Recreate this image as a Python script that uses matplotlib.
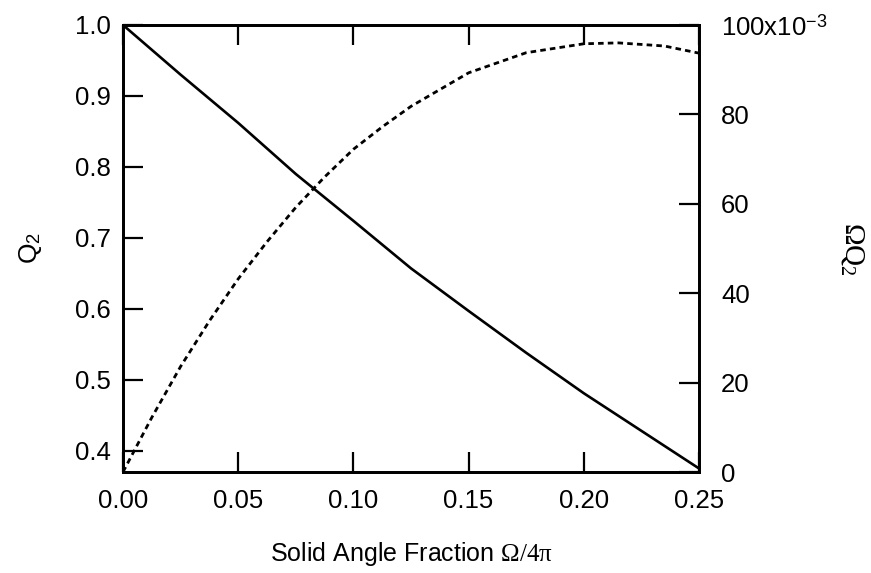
import matplotlib
matplotlib.use("Agg")
import matplotlib.pyplot as plt
from matplotlib.ticker import FixedLocator

plt.rcParams['font.family'] = ['Liberation Sans', 'DejaVu Sans']
plt.rcParams['mathtext.fontset'] = 'custom'
plt.rcParams['mathtext.rm'] = 'Liberation Serif'
plt.rcParams['mathtext.it'] = 'Liberation Serif:italic'
plt.rcParams['mathtext.sf'] = 'Liberation Sans'

# Solid angle fraction Omega/4pi
frac = [0.0, 0.025, 0.05, 0.075, 0.1, 0.125, 0.15, 0.175, 0.2, 0.225, 0.25]
# Q2 versus solid angle fraction (left axis)
q2 = [1.0, 0.930, 0.862, 0.790, 0.724, 0.657, 0.597, 0.538, 0.481, 0.428, 0.375]

# Omega*Q2 (right axis)
frac_oq = [0.0, 0.0125, 0.025, 0.0375, 0.05, 0.0625, 0.075, 0.0875, 0.1,
           0.1125, 0.125, 0.15, 0.175, 0.2, 0.215, 0.235, 0.25]
omega_q2 = [0.0, 0.0122, 0.0236, 0.0338, 0.0432, 0.0515, 0.0592, 0.0660, 0.0722,
            0.0772, 0.0818, 0.0893, 0.0938, 0.0958, 0.0960, 0.0953, 0.0937]

x_ticks = [0.0, 0.05, 0.10, 0.15, 0.20, 0.25]
x_labels = ['0.00', '0.05', '0.10', '0.15', '0.20', '0.25']
left_ticks = [0.4, 0.5, 0.6, 0.7, 0.8, 0.9, 1.0]
left_labels = ['0.4', '0.5', '0.6', '0.7', '0.8', '0.9', '1.0']
right_ticks = [0.0, 0.02, 0.04, 0.06, 0.08, 0.10]
right_labels = ['0', '20', '40', '60', '80', r'100x10$^{\mathsf{-3}}$']

fig = plt.figure(figsize=(8.71, 5.73), dpi=100)
ax = fig.add_axes([123 / 871, 1 - 472 / 573, (699 - 123) / 871, (472 - 25) / 573])
ax2 = ax.twinx()

ax.plot(frac, q2, color='black', lw=1.9, solid_joinstyle='round')
ax2.plot(frac_oq, omega_q2, color='black', lw=2.0, linestyle=(0, (2.0, 1.5)))

ax.set_xlim(0.0, 0.25)
ax.set_ylim(0.37, 1.0)
ax2.set_ylim(0.0, 0.1)

ax.xaxis.set_major_locator(FixedLocator(x_ticks))
ax.set_xticklabels(x_labels)
ax.yaxis.set_major_locator(FixedLocator(left_ticks))
ax.set_yticklabels(left_labels)
ax2.yaxis.set_major_locator(FixedLocator(right_ticks))
ax2.set_yticklabels(right_labels)

for a in (ax, ax2):
    for s in a.spines.values():
        s.set_linewidth(2.0)
    a.minorticks_off()

fs = 18.5
ax.tick_params(axis='x', which='major', direction='in', length=14.5, width=1.6,
               top=True, labeltop=False, labelsize=fs, pad=12)
ax.tick_params(axis='y', which='major', direction='in', length=14.5, width=1.6,
               right=False, labelsize=fs, pad=9)
ax2.tick_params(axis='y', which='major', direction='in', length=14.5, width=1.6,
                labelsize=fs, pad=16)

ax.set_xlabel(r'Solid Angle Fraction $\mathrm{\Omega/4\pi}$', fontsize=18, labelpad=20)
ax.set_ylabel(r'$\mathsf{Q}_\mathsf{2}$', fontsize=19, labelpad=22)
ax2.set_ylabel(r'$\mathrm{\Omega Q_2}$', fontsize=21, rotation=270, labelpad=28)

fig.savefig('out.png', dpi=100)
